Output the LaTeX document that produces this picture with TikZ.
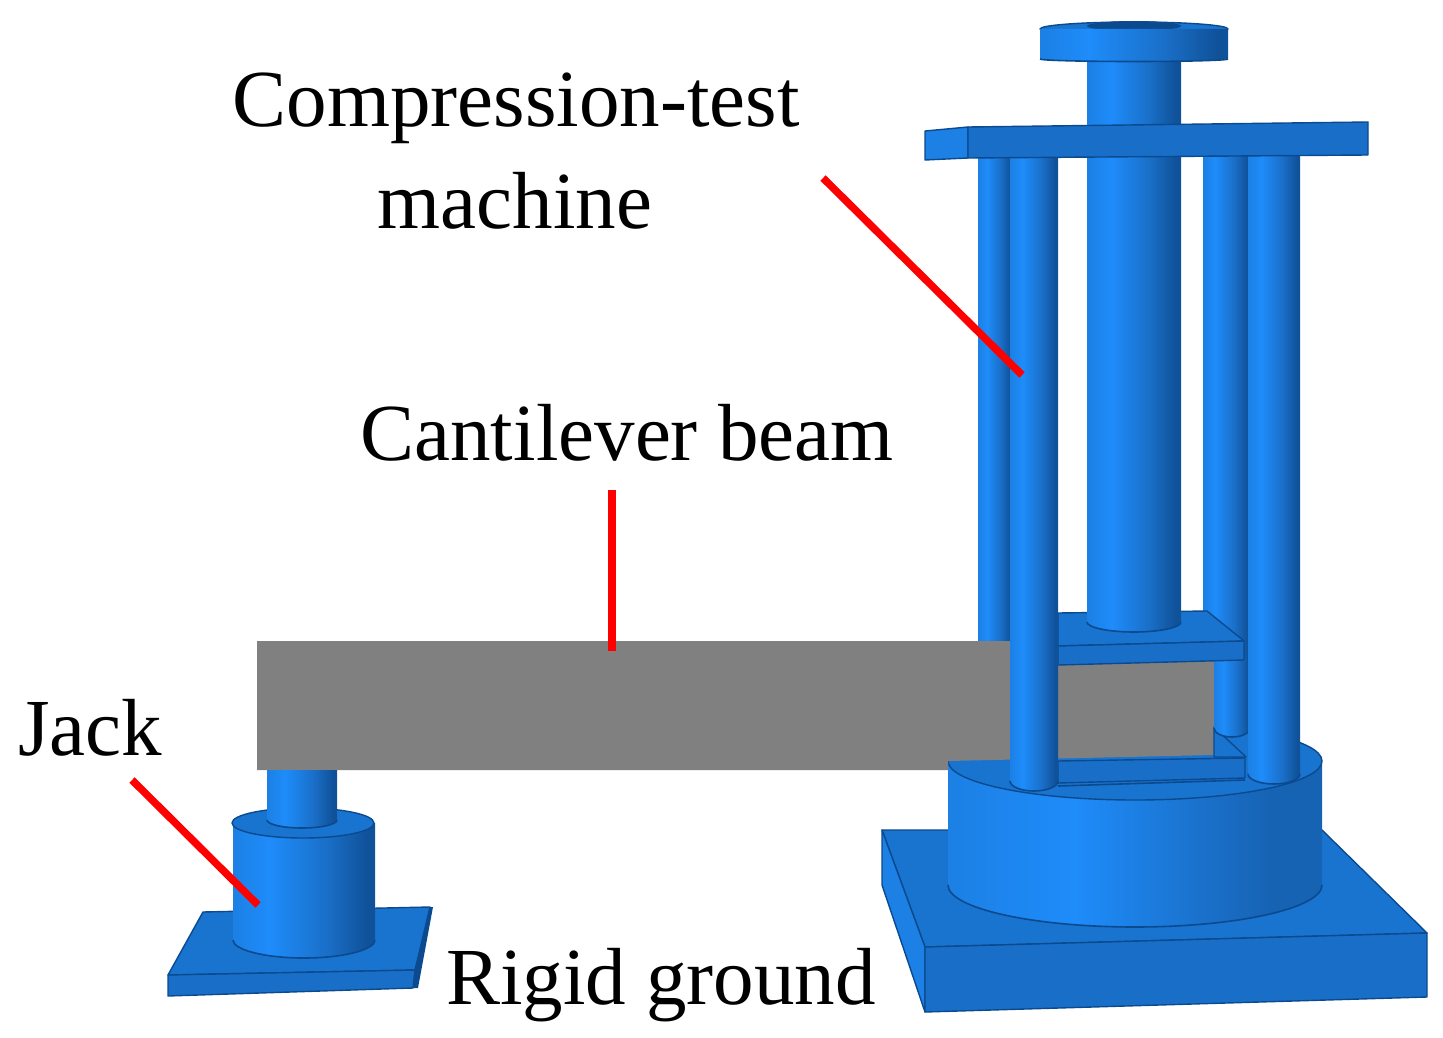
\documentclass[tikz,border=0pt]{standalone}
\usepackage{fontspec}
\setmainfont{Liberation Serif}
\definecolor{edgeblue}{HTML}{0B4A8F}
\definecolor{topblue}{HTML}{1974D0}
\definecolor{faceblue}{HTML}{196FC8}
\definecolor{leftblue}{HTML}{1C80E4}
\definecolor{beamgray}{HTML}{808080}
\definecolor{redline}{HTML}{FF0000}
\definecolor{peakblue}{HTML}{1E8CFA}
\definecolor{midblue}{HTML}{1A6FC8}
\definecolor{darkblue}{HTML}{10529A}
\definecolor{drumdark}{HTML}{1663B4}
\pgfdeclarehorizontalshading{cylshade}{100bp}{color(0bp)=(leftblue);color(25bp)=(leftblue);color(38bp)=(peakblue);color(58bp)=(midblue);color(72bp)=(darkblue);color(75bp)=(darkblue);color(100bp)=(darkblue)}
\pgfdeclarehorizontalshading{drumshade}{100bp}{color(0bp)=(leftblue);color(25bp)=(leftblue);color(42bp)=(peakblue);color(60bp)=(midblue);color(68bp)=(drumdark);color(75bp)=(drumdark);color(100bp)=(drumdark)}
\newcommand{\cylinderdraw}[6]{%
  \pgfmathsetmacro{\xm}{(#2+#3)/2}%
  \pgfmathsetmacro{\kx}{.55*(#3-#2)/2}%
  \shade[shading=#1] (#2,#4) -- (#2,#5) .. controls +(0,{.55*#6}) and ({\xm-\kx},{#5+#6}) .. (\xm,{#5+#6}) .. controls ({\xm+\kx},{#5+#6}) and (#3,{#5+.55*#6}) .. (#3,#5) -- (#3,#4) -- cycle;%
  \draw[cyledge] (#2,#5) .. controls +(0,{.55*#6}) and ({\xm-\kx},{#5+#6}) .. (\xm,{#5+#6}) .. controls ({\xm+\kx},{#5+#6}) and (#3,{#5+.55*#6}) .. (#3,#5);%
}
\tikzset{
  x=1pt,y=-1pt,
  cyledge/.style={draw=edgeblue,line width=1.6pt},
  topface/.style={fill=topblue,draw=edgeblue,line width=1.4pt,line join=round},
  frontface/.style={fill=faceblue,draw=edgeblue,line width=1.4pt,line join=round},
  sideface/.style={fill=leftblue,draw=edgeblue,line width=1.4pt,line join=round},
  labeltext/.style={font=\fontsize{81}{100}\selectfont,inner sep=0pt,text=black,align=center},
  pointer/.style={draw=redline,line width=7.5pt},
}
\begin{document}
\begin{tikzpicture}
\useasboundingbox (0,0) rectangle (1443,1038);
% base plate of the machine
\fill[topface] (882,830) -- (1322,830) -- (1427,933) -- (925,947) -- cycle;
\fill[sideface] (882,830) -- (925,947) -- (925,1012) -- (882,885) -- cycle;
\fill[frontface] (925,947) -- (1427,933) -- (1427,997) -- (925,1012) -- cycle;
% drum
\cylinderdraw{drumshade}{948}{1322}{761}{885}{42}
\fill[topface] (1135,761) ellipse [x radius=187,y radius=39];
% rear pillars
\shade[shading=cylshade] (978,150) rectangle (1012,660);
\shade[shading=cylshade] (1203,150) rectangle (1250,655);
% beam
\fill[beamgray] (257,641) -- (1012,641) -- (1012,655) -- (1214,655) -- (1214,755) -- (948,761) -- (948,770) -- (257,770) -- cycle;
% rear right pillar lower part and lower plate
\fill[topface] (1214,727) -- (1246,757) -- (1214,757) -- cycle;
\cylinderdraw{cylshade}{1214}{1250}{655}{728}{9}
\fill[frontface] (1058,761) -- (1245,758) -- (1245,778) -- (1058,783) -- cycle;
\draw[cyledge] (1058,786) -- (1245,780);
% middle plate
\fill[topface] (1058,613) -- (1207,611) -- (1244,641) -- (1058,646) -- cycle;
\fill[frontface] (1058,646) -- (1244,641) -- (1244,660) -- (1058,665) -- cycle;
% central column
\cylinderdraw{cylshade}{1087}{1181}{60}{622}{10}
% front pillars
\cylinderdraw{cylshade}{1010}{1058}{150}{781}{10}
\cylinderdraw{cylshade}{1248}{1300}{150}{774}{10}
% crossbar
\fill[sideface] (925,131) -- (968,127) -- (968,158) -- (925,160) -- cycle;
\fill[frontface] (968,127) -- (1368,122) -- (1368,155) -- (968,158) -- cycle;
% top flange
\fill[topface] (1134,29) ellipse [x radius=94,y radius=7];
\fill[edgeblue] (1134,26) ellipse [x radius=47,y radius=5];
\cylinderdraw{cylshade}{1040}{1228}{29}{59}{2.5}
% jack
\fill[topface] (203,912) -- (430,907) -- (415,970) -- (168,975) -- cycle;
\fill[frontface] (168,975) -- (415,970) -- (413,988) -- (168,996) -- cycle;
\fill[edgeblue] (430,907) -- (433,907) -- (418,988) -- (413,988) -- (415,970) -- cycle;
\cylinderdraw{cylshade}{233}{375}{823}{940}{18}
\fill[topface] (303,823) ellipse [x radius=71,y radius=15];
\cylinderdraw{cylshade}{267}{337}{770}{820}{8}
% labels
\node[labeltext,anchor=base] (machine) at (516,127) {Compression-test};
\node[labeltext,anchor=base] (machine2) at (515,228) {machine};
\node[labeltext,anchor=base] (beam) at (627,460) {Cantilever beam};
\node[labeltext,anchor=base] (jack) at (90,755) {Jack};
\node[labeltext,anchor=base] (ground) at (661,1004) {Rigid ground};
% pointers
\coordinate (machinefrom) at (823,178);
\coordinate (machineto) at (1022,375);
\coordinate (beamfrom) at (612,490);
\coordinate (beamto) at (612,651);
\coordinate (jackfrom) at (132,780);
\coordinate (jackto) at (258,905);
\draw[pointer] (machinefrom) -- (machineto);
\draw[pointer] (beamfrom) -- (beamto);
\draw[pointer] (jackfrom) -- (jackto);
\end{tikzpicture}
\end{document}
